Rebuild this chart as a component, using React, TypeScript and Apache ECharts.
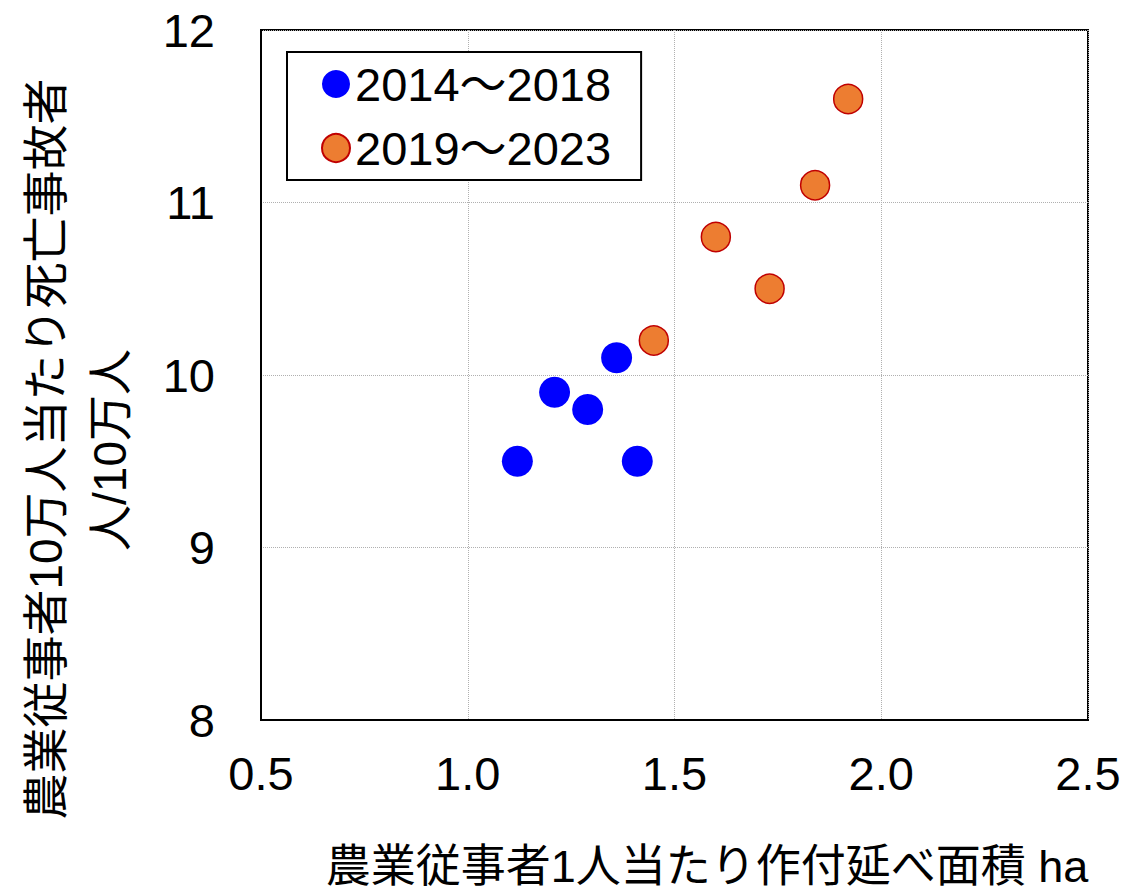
import React, { useEffect, useRef } from "react";
import * as echarts from "echarts";

const seriesNames = ["2014～2018", "2019～2023"];
const area2014to2018 = [1.12, 1.21, 1.29, 1.36, 1.41];
const deaths2014to2018 = [9.5, 9.9, 9.8, 10.1, 9.5];
const area2019to2023 = [1.45, 1.6, 1.73, 1.84, 1.92];
const deaths2019to2023 = [10.2, 10.8, 10.5, 11.1, 11.6];
const xTitle = "農業従事者1人当たり作付延べ面積 ha";
const yTitle1 = "農業従事者10万人当たり死亡事故者";
const yTitle2 = "人/10万人";

const FONT = "'Liberation Sans', Arial, 'Noto Sans CJK JP', sans-serif";

export default function App() {
  const ref = useRef<HTMLDivElement>(null);
  useEffect(() => {
    document.body.style.margin = "0";
    if (!ref.current) return;
    const chart = echarts.init(ref.current, undefined, { renderer: "svg" });
    const pairs = (xs: number[], ys: number[]) => xs.map((x, i) => [x, ys[i]]);
    chart.setOption({
      animation: false,
      backgroundColor: "#ffffff",
      textStyle: { fontFamily: FONT },
      grid: {
        left: 261,
        right: 47,
        top: 30,
        bottom: 172,
        show: true,
        borderColor: "#000000",
        borderWidth: 2,
        backgroundColor: "transparent",
      },
      legend: {
        left: 287,
        top: 52,
        orient: "vertical",
        data: seriesNames,
        icon: "circle",
        itemWidth: 28,
        itemHeight: 28,
        itemGap: 14,
        padding: [7, 30, 7, 34],
        borderColor: "#000000",
        borderWidth: 2,
        backgroundColor: "#ffffff",
        textStyle: { fontSize: 47, color: "#000000", fontFamily: FONT, lineHeight: 50 },
      },
      xAxis: {
        type: "value",
        min: 0.5,
        max: 2.5,
        interval: 0.5,
        axisLine: { show: true, lineStyle: { color: "#000000", width: 2 } },
        axisTick: { show: false },
        splitLine: { show: true, lineStyle: { color: "#b0b0b0", type: "dotted", width: 1 } },
        axisLabel: {
          fontSize: 47,
          color: "#000000",
          margin: 30,
          fontFamily: FONT,
          formatter: (v: number) => v.toFixed(1),
        },
      },
      yAxis: {
        type: "value",
        min: 8,
        max: 12,
        interval: 1,
        axisLine: { show: true, lineStyle: { color: "#000000", width: 2 } },
        axisTick: { show: false },
        splitLine: { show: true, lineStyle: { color: "#b0b0b0", type: "dotted", width: 1 } },
        axisLabel: { fontSize: 47, color: "#000000", margin: 46, fontFamily: FONT },
      },
      graphic: [
        {
          type: "text",
          x: 707,
          y: 866,
          style: {
            text: xTitle,
            fontSize: 45,
            fill: "#000000",
            fontFamily: FONT,
            textAlign: "center",
            textVerticalAlign: "middle",
          },
        },
        {
          type: "text",
          x: 46,
          y: 449,
          rotation: Math.PI / 2,
          style: {
            text: yTitle1,
            fontSize: 46,
            fill: "#000000",
            fontFamily: FONT,
            textAlign: "center",
            textVerticalAlign: "middle",
          },
        },
        {
          type: "text",
          x: 110,
          y: 450,
          rotation: Math.PI / 2,
          style: {
            text: yTitle2,
            fontSize: 46,
            fill: "#000000",
            fontFamily: FONT,
            textAlign: "center",
            textVerticalAlign: "middle",
          },
        },
      ],
      series: [
        {
          name: seriesNames[0],
          type: "scatter",
          symbol: "circle",
          symbolSize: 31,
          itemStyle: { color: "#0000ff", borderWidth: 0, opacity: 1 },
          data: pairs(area2014to2018, deaths2014to2018),
        },
        {
          name: seriesNames[1],
          type: "scatter",
          symbol: "circle",
          symbolSize: 29,
          itemStyle: { color: "#ed7d31", borderColor: "#c00000", borderWidth: 1.5, opacity: 1 },
          data: pairs(area2019to2023, deaths2019to2023),
        },
      ],
    });
    return () => chart.dispose();
  }, []);
  return <div ref={ref} style={{ width: 1135, height: 892 }} />;
}
